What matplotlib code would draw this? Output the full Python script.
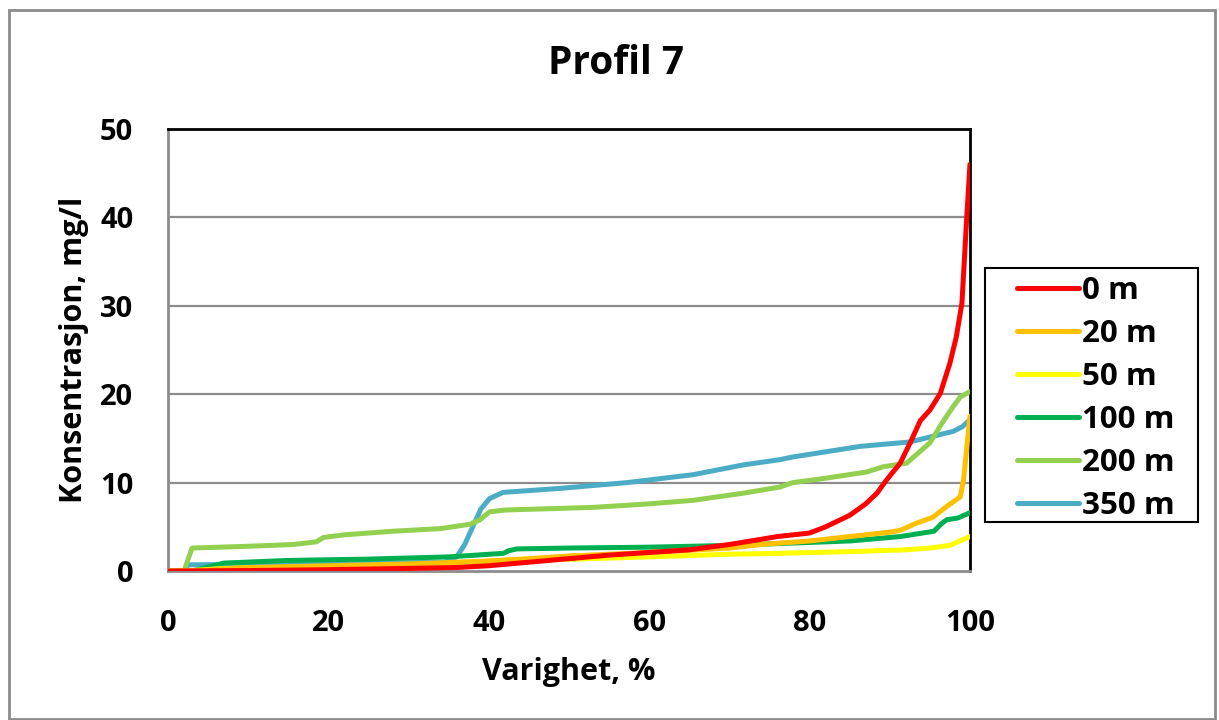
import matplotlib
matplotlib.use("Agg")
import matplotlib.pyplot as plt
from matplotlib.patches import Rectangle

plt.rcParams['font.family'] = ['Open Sans', 'DejaVu Sans']
plt.rcParams['font.weight'] = 'bold'

title = "Profil 7"
x_label = "Varighet, %"
y_label = "Konsentrasjon, mg/l"
series_names = ["0 m", "20 m", "50 m", "100 m", "200 m", "350 m"]
series_colors = ["#FF0000", "#FFC000", "#FFFF00", "#00B050", "#92D050", "#4BACC6"]
x_ticks = [0, 20, 40, 60, 80, 100]
y_ticks = [0, 10, 20, 30, 40, 50]

# Duration curves: exceedance duration (%) vs concentration (mg/l)
x_0m = [0, 10, 20, 30, 36, 40, 45, 50, 55, 60, 65, 70, 74, 76, 80, 82, 85, 87,
        88.4, 89.6, 91.3, 92.7, 93.8, 95, 96.3, 97.5, 98.3, 99, 99.6, 100]
y_0m = [0, 0.05, 0.15, 0.3, 0.4, 0.6, 1.0, 1.4, 1.8, 2.1, 2.4, 3.0, 3.6, 3.9, 4.3,
        5.0, 6.3, 7.6, 8.8, 10.3, 12.2, 14.8, 17.0, 18.2, 20.1, 23.5, 26.5, 30.3, 40, 46]

x_20m = [0, 3, 10, 20, 30, 39, 45, 50, 60, 70, 74, 80, 86, 90, 91.3, 93.3, 95.4,
         97.1, 98.8, 99.2, 100]
y_20m = [0, 0, 0.4, 0.6, 0.8, 1.1, 1.4, 1.7, 2.1, 2.6, 3.0, 3.4, 4.0, 4.4, 4.6,
         5.4, 6.1, 7.3, 8.4, 10.3, 17.5]

x_50m = [0, 2, 7, 20, 36, 45, 60, 70, 76, 85, 92, 95, 97.5, 100]
y_50m = [0, 0, 0.3, 0.5, 0.8, 1.2, 1.6, 1.9, 2.0, 2.2, 2.4, 2.6, 2.9, 3.9]

x_100m = [0, 3, 7, 15, 25, 35, 41.8, 42.5, 43.5, 50, 60, 70, 76, 85, 91.3, 95.5,
          96.5, 97.1, 98.5, 100]
y_100m = [0, 0, 0.9, 1.2, 1.35, 1.6, 2.0, 2.3, 2.5, 2.6, 2.7, 2.9, 3.1, 3.4, 3.9,
          4.5, 5.4, 5.8, 6.0, 6.6]

x_200m = [0, 2, 3, 10, 15.6, 18.5, 19.4, 22, 28, 34, 37.7, 38.9, 40.1, 42, 53, 60,
          65.5, 71.7, 76.3, 77.9, 82, 87.1, 89.2, 92.1, 95, 96.5, 97.9, 98.8, 100]
y_200m = [0, 0, 2.6, 2.8, 3.0, 3.3, 3.8, 4.1, 4.5, 4.8, 5.3, 5.8, 6.7, 6.9, 7.2, 7.6,
          8.0, 8.8, 9.5, 10.0, 10.5, 11.2, 11.8, 12.2, 14.5, 16.7, 18.6, 19.7, 20.3]

x_350m = [0, 2, 2.5, 10, 20, 34.5, 36, 37, 38, 39, 40.1, 41.8, 45, 48.9, 57.2, 65.5,
          71.7, 76.3, 77.9, 86.3, 92.5, 97.9, 99, 100]
y_350m = [0, 0, 0.7, 0.75, 0.8, 1.0, 1.6, 3.0, 5.0, 7.0, 8.2, 8.9, 9.1, 9.35, 10.0,
          10.9, 12.0, 12.6, 12.9, 14.1, 14.6, 15.8, 16.3, 17.1]

xs = [x_0m, x_20m, x_50m, x_100m, x_200m, x_350m]
ys = [y_0m, y_20m, y_50m, y_100m, y_200m, y_350m]

fig = plt.figure(figsize=(12.19, 7.2), dpi=100)
fig.patches.append(Rectangle((0.007, 0.002), 0.99, 0.984, transform=fig.transFigure,
                             fill=False, edgecolor="#8C8C8C", linewidth=2))

ax = fig.add_axes([0.1378, 0.2069, 0.6579, 0.6139])
for gy in y_ticks[1:]:
    ax.axhline(gy, color="#8C8C8C", linewidth=1.6, zorder=1)

# draw in reverse so the first series sits on top
for x, y, c, n in reversed(list(zip(xs, ys, series_colors, series_names))):
    ax.plot(x, y, color=c, linewidth=3.6, solid_capstyle="round", label=n, zorder=3)

ax.set_xlim(0, 100)
ax.set_ylim(0, 50)
ax.set_xticks(x_ticks)
ax.set_yticks(y_ticks)
ax.tick_params(axis="x", length=0, labelsize=21, pad=27)
ax.tick_params(axis="y", length=0, labelsize=21, pad=25)
for lbl in ax.get_xticklabels() + ax.get_yticklabels():
    lbl.set_fontweight("bold")
ax.spines['left'].set_color("#8C8C8C")
ax.spines['bottom'].set_color("#8C8C8C")
ax.spines['left'].set_linewidth(2)
ax.spines['bottom'].set_linewidth(2)
ax.spines['top'].set_color("black")
ax.spines['right'].set_color("black")
ax.spines['top'].set_linewidth(2)
ax.spines['right'].set_linewidth(2)

ax.set_xlabel(x_label, fontsize=22, fontweight="bold", labelpad=14)
ax.set_ylabel(y_label, fontsize=22, fontweight="bold", labelpad=8)
fig.text(0.505, 0.912, title, fontsize=28, fontweight="bold", ha="center", va="center")

# legend box
fig.patches.append(Rectangle((0.808, 0.275), 0.1747, 0.353, transform=fig.transFigure,
                             fill=False, edgecolor="black", linewidth=1.5))
handles, labels = ax.get_legend_handles_labels()
leg = fig.legend(handles[::-1], labels[::-1], loc="upper left",
                 bbox_to_anchor=(0.834, 0.617), borderaxespad=0, fontsize=22.5,
                 frameon=False, handlelength=2.0, handletextpad=0.1,
                 labelspacing=0.42, borderpad=0)
for t in leg.get_texts():
    t.set_fontweight("bold")

fig.savefig("out.png", dpi=100)
